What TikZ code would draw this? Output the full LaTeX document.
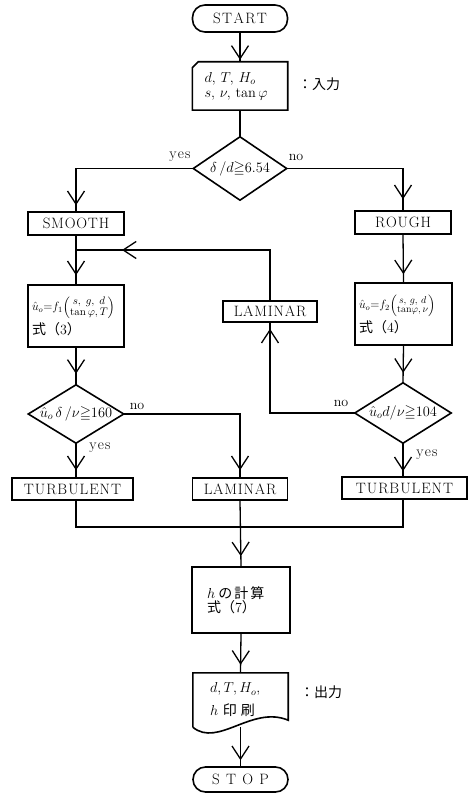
\documentclass[tikz,border=0pt]{standalone}
\usepackage{amsmath,amssymb}
\usepackage{fontspec}
\newfontfamily\jp{Noto Sans CJK JP}
\usetikzlibrary{shapes.geometric,arrows.meta,decorations.markings,calc}
\makeatletter
\newcommand\caps[2][0.8pt]{{\fontsize{15}{17}\selectfont\@tfor\cx@:=#2\do{\cx@\kern#1}\kern-#1}}
\makeatother
\newcommand\jpt{\jp\fontsize{14}{22}\selectfont}
\begin{document}
\begin{tikzpicture}[x=1pt,y=-1pt,
  myv/.tip={Straight Barb[length=13pt,width=17pt]},
  bl/.style={line width=1.6pt,line join=miter},
  ln/.style={line width=1.3pt},
  box/.style={draw,bl,inner sep=0pt,align=center},
  term/.style={draw,bl,inner sep=0pt,rounded corners=12.5pt},
  dia/.style={inner sep=0pt,font=\fontsize{14.4}{16}\selectfont},
  lab/.style={inner sep=0pt,font=\fontsize{14}{16}\selectfont},
  arrowat/.style={postaction={decorate,decoration={markings,mark=at position #1 with {\arrow{myv}}}}}]
\useasboundingbox (0,0) rectangle (471,794);
\fill[white] (0,0) rectangle (471,794);

% terminals
\node[term,minimum width=95pt,minimum height=27pt] (start) at (240,18.5) {\caps[1.4pt]{START}};
\node[term,minimum width=95pt,minimum height=25pt] (stop) at (240.5,779.5) {\caps[6.3pt]{STOP}};

% input
\node[inner xsep=12pt,inner ysep=0pt,text width=71pt,minimum height=48pt,align=left,
      font=\fontsize{14.4}{15}\selectfont] (inp) at (240,86)
  {$d,\,T,\,H_o$\\ $s,\,\nu,\,\tan\varphi$};
\draw[bl] ($(inp.north west)+(0,6)$) -- ($(inp.north west)+(6,0)$) -- (inp.north east)
  -- (inp.south east) -- (inp.south west) -- cycle;
\node[anchor=west,inner sep=0pt] (inlbl) at (298,84) {\jpt ：入力};

% decision 1
\node[dia,minimum width=93pt,minimum height=63pt] (d1) at (240,168.5) {$\delta\,/d{\geqq}6.54$};
\draw[bl] (d1.north) -- (d1.east) -- (d1.south) -- (d1.west) -- cycle;
\node[lab] (yes1) at (180,157) {\caps[1.2pt]{yes}};
\node[lab] (no1) at (296,157) {no};

% boxes
\node[box,minimum width=96pt,minimum height=23pt] (smooth) at (76,223.5) {\caps{SMOOTH}};
\node[box,minimum width=96pt,minimum height=23pt] (rough) at (403,222.5) {\caps{ROUGH}};

\node[box,minimum height=62pt,text width=88pt,inner xsep=4pt,align=left] (f1) at (76,316)
  {\fontsize{12}{14}\selectfont$\hat{u}_o{=}f_1\!\left(\mbox{\fontsize{10.95}{11}\selectfont\renewcommand\arraystretch{0.85}$\begin{array}{@{}c@{}}s,\; g,\; d\\ \tan\varphi,T\end{array}$}\right)$\\[3pt]
   {\jpt 式（{\rmfamily 3}）}};
\node[box,minimum height=62pt,text width=89pt,inner xsep=4pt,align=left] (f2) at (403.5,314)
  {\fontsize{12}{14}\selectfont$\hat{u}_o{=}f_2\!\left(\mbox{\fontsize{10}{11}\selectfont\renewcommand\arraystretch{0.85}$\begin{array}{@{}c@{}}s,\, g,\, d\\ \tan\!\varphi,\nu\end{array}$}\right)$\\[3pt]
   {\jpt 式（{\rmfamily 4}）}};

\node[box,minimum width=94pt,minimum height=21pt] (lam1) at (270,311.5) {\caps{LAMINAR}};

% decisions 2,3
\node[dia,minimum width=95pt,minimum height=58pt] (d2) at (76,414) {$\hat{u}_o\,\delta\,/\nu{\geqq}160$};
\draw[bl] (d2.north) -- (d2.east) -- (d2.south) -- (d2.west) -- cycle;
\node[dia,minimum width=96pt,minimum height=60pt] (d3) at (403,413) {$\hat{u}_o d/\nu{\geqq}104$};
\draw[bl] (d3.north) -- (d3.east) -- (d3.south) -- (d3.west) -- cycle;
\node[lab] (no2) at (137,406) {no};
\node[lab] (yes2) at (100,448) {\caps[1.2pt]{yes}};
\node[lab] (no3) at (341,403) {no};
\node[lab] (yes3) at (427,455) {\caps[1.2pt]{yes}};

\node[box,minimum width=121pt,minimum height=22pt] (turb1) at (72.5,489) {\caps[1pt]{TURBULENT}};
\node[box,minimum width=95pt,minimum height=22pt] (lam2) at (240,489) {\caps{LAMINAR}};
\node[box,minimum width=125pt,minimum height=22pt] (turb2) at (404.5,488) {\caps[1pt]{TURBULENT}};

% h box
\node[box,minimum height=66pt,text width=68pt,inner xsep=15pt,align=left] (hbox) at (241,600)
  {\jpt {\rmfamily\fontsize{14.4}{22}\selectfont$h$} の\hspace{2pt}計\hspace{2pt}算\\ 式（{\rmfamily 7}）};

% output document
\node[inner xsep=17pt,inner ysep=0pt,text width=61pt,minimum height=54pt,align=left,
      font=\fontsize{14.4}{23}\selectfont] (out) at (240.5,700)
  {$d,T,H_o,$\\ $h$\ {\jpt 印\hspace{4pt}刷}};
\draw[bl] (out.south west) -- (out.north west) -- (out.north east) -- ($(out.south east)+(0,-7)$)
  .. controls (252,705) and (218,748) .. (out.south west);
\node[anchor=west,inner sep=0pt] (outlbl) at (300,692) {\jpt ：出力};

% connectors
\coordinate (j1) at (76,250);
\coordinate (mR) at (403,527);
\draw[ln,arrowat=-2pt] (start.south) -- (inp.north);
\draw[ln] (inp.south) -- (d1.north);
\draw[ln,arrowat=-6pt] (d1.west) -| (smooth.north);
\draw[ln,arrowat=-11pt] (d1.east) -| (rough.north);
\draw[ln,arrowat=-9pt] (smooth.south) -- (f1.north);
\draw[ln,arrowat=-8pt] (rough.south) -- (f2.north);
\draw[ln,arrowat=-11pt] (f1.south) -- (d2.north);
\draw[ln,arrowat=-10pt] (f2.south) -- (d3.north);
\draw[ln,arrowat=-6pt] (d3.west) -| (lam1.south);
\draw[ln,arrowat=-46pt] (lam1.north) |- (j1);
\draw[ln,arrowat=-7pt] (d2.south) -- (d2.south |- turb1.north);
\draw[ln,arrowat=-7pt] (d2.east) -| (lam2.north);
\draw[ln,arrowat=-5pt] (d3.south) -- (d3.south |- turb2.north);
\draw[ln] (d2.south |- turb1.south) |- (mR) -- (d3.south |- turb2.south);
\draw[ln,arrowat=-10pt] (lam2.south) -- (hbox.north);
\draw[ln,arrowat=-8pt] (hbox.south) -- (out.north);
\draw[ln,arrowat=-6pt] (out.south) -- (stop.north);
\end{tikzpicture}
\end{document}
